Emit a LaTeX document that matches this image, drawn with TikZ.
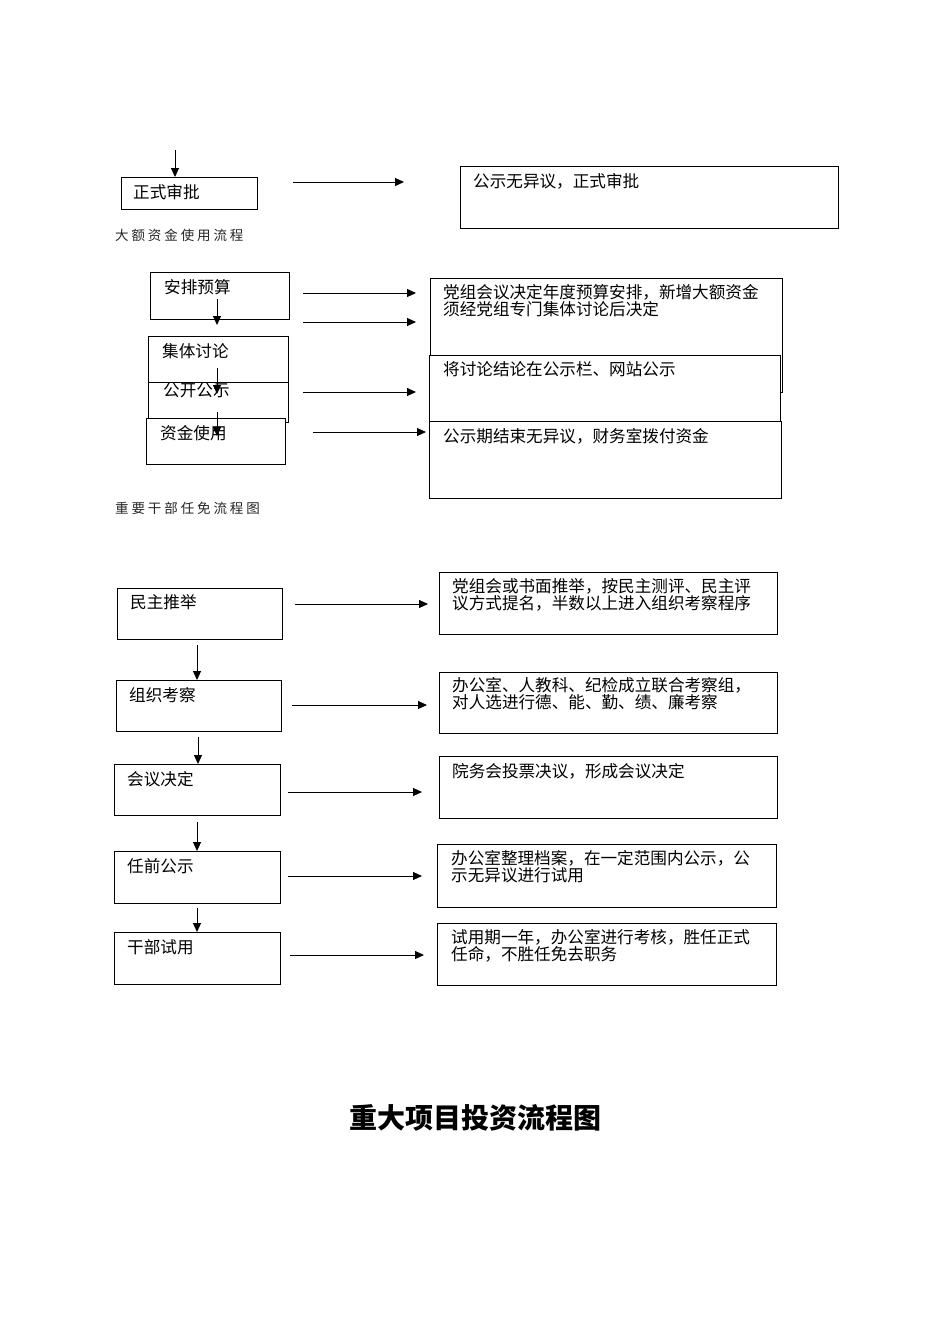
\documentclass[tikz,border=0pt]{standalone}
\usepackage{fontspec}
\usetikzlibrary{arrows.meta}
\newfontfamily\cjk{Noto Sans CJK SC}
\makeatletter
\newcommand\spacedcjk[1]{\@tfor\my@c:=#1\do{\makebox[16.4pt][l]{\my@c}}}
\makeatother
\tikzset{
  box/.style={draw, line width=1.1pt, inner sep=0pt, anchor=north west, fill=white},
  txt/.style={inner sep=0pt, anchor=west, font=\cjk\fontsize{16.6}{17}\selectfont, align=left},
  txt2/.style={inner sep=0pt, anchor=north west, font=\cjk\fontsize{16.6}{17}\selectfont, align=left},
  lbl/.style={inner sep=0pt, anchor=west, text=black!85, font=\cjk\fontsize{13.5}{14}\selectfont},
  arr/.style={line width=1pt, -{Triangle[length=9pt,width=8pt]}}
}
\begin{document}
\begin{tikzpicture}[x=1pt,y=-1pt]
\useasboundingbox (0,0) rectangle (950,1344);
% ---------- section 1 ----------
\node[box, minimum width=136pt, minimum height=32pt] (s1) at (121,177) {};
\node[box, minimum width=378pt, minimum height=62pt] (r1) at (460,166) {};
\node[txt] (s1t) at (133,192) {正式审批};
\node[txt] (r1t) at (473,181) {公示无异议，正式审批};
\coordinate (c0) at (175,150);
\draw[arr] (c0) -- (s1.north -| c0);
\coordinate (h1a) at (293,182);
\coordinate (h1b) at (404,182);
\draw[arr] (h1a) -- (h1b);
\node[lbl] (l1) at (115,235) {\spacedcjk{大额资金使用流程}};
% ---------- section 2 ----------
\node[box, minimum width=139pt, minimum height=47pt] (a1) at (150,272) {};
\node[box, minimum width=140pt, minimum height=46pt] (a2) at (148,336) {};
\node[box, minimum width=140pt, minimum height=40pt] (a3) at (148,382) {};
\node[box, minimum width=139pt, minimum height=46pt] (a4) at (146,418) {};
\node[box, minimum width=352pt, minimum height=114pt] (ra) at (430,278) {};
\node[box, minimum width=351pt, minimum height=66pt] (rb) at (429,355) {};
\node[box, minimum width=352pt, minimum height=77pt] (rc) at (429,421) {};
\node[txt] (a1t) at (164,287) {安排预算};
\node[txt] (a2t) at (162,351) {集体讨论};
\node[txt] (a3t) at (163,390) {公开公示};
\node[txt] (a4t) at (160,433) {资金使用};
\node[txt2] (rat) at (443,284.5) {党组会议决定年度预算安排，新增大额资金\\须经党组专门集体讨论后决定};
\node[txt] (rbt) at (443,369) {将讨论结论在公示栏、网站公示};
\node[txt] (rct) at (443,436) {公示期结束无异议，财务室拨付资金};
\coordinate (v1a) at (217,299);
\coordinate (v1b) at (217,325);
\coordinate (v2a) at (217,368);
\coordinate (v2b) at (217,394);
\coordinate (v3a) at (217,412);
\coordinate (v3b) at (217,436);
\draw[arr] (v1a) -- (v1b);
\draw[arr] (v2a) -- (v2b);
\draw[arr] (v3a) -- (v3b);
\coordinate (h2a) at (303,293); \coordinate (h2b) at (416,293);
\coordinate (h3a) at (303,322); \coordinate (h3b) at (416,322);
\coordinate (h4a) at (303,392); \coordinate (h4b) at (416,392);
\coordinate (h5a) at (313,432); \coordinate (h5b) at (426,432);
\draw[arr] (h2a) -- (h2b);
\draw[arr] (h3a) -- (h3b);
\draw[arr] (h4a) -- (h4b);
\draw[arr] (h5a) -- (h5b);
\node[lbl] (l2) at (115,508) {\spacedcjk{重要干部任免流程图}};
% ---------- section 3 ----------
\node[box, minimum width=165pt, minimum height=51pt] (p1) at (117,588) {};
\node[box, minimum width=165pt, minimum height=51pt] (p2) at (116,680) {};
\node[box, minimum width=166pt, minimum height=51pt] (p3) at (114,764) {};
\node[box, minimum width=166pt, minimum height=52pt] (p4) at (114,851) {};
\node[box, minimum width=166pt, minimum height=52pt] (p5) at (114,932) {};
\node[txt] (p1t) at (130,602) {民主推举};
\node[txt] (p2t) at (129,695) {组织考察};
\node[txt] (p3t) at (127,779) {会议决定};
\node[txt] (p4t) at (127,866) {任前公示};
\node[txt] (p5t) at (127,947) {干部试用};
\node[box, minimum width=338pt, minimum height=62pt] (q1) at (439,572) {};
\node[box, minimum width=338pt, minimum height=61pt] (q2) at (439,672) {};
\node[box, minimum width=338pt, minimum height=62pt] (q3) at (439,756) {};
\node[box, minimum width=339pt, minimum height=63pt] (q4) at (437,844) {};
\node[box, minimum width=339pt, minimum height=62pt] (q5) at (437,923) {};
\node[txt2] (q1t) at (452,578.5) {党组会或书面推举，按民主测评、民主评\\议方式提名，半数以上进入组织考察程序};
\node[txt2] (q2t) at (452,677.5) {办公室、人教科、纪检成立联合考察组，\\对人选进行德、能、勤、绩、廉考察};
\node[txt] (q3t) at (452,771) {院务会投票决议，形成会议决定};
\node[txt2] (q4t) at (451,850.5) {办公室整理档案，在一定范围内公示，公\\示无异议进行试用};
\node[txt2] (q5t) at (451,929.5) {试用期一年，办公室进行考核，胜任正式\\任命，不胜任免去职务};
\coordinate (d1) at (197,645); \coordinate (d2) at (198,737);
\coordinate (d3) at (197,822); \coordinate (d4) at (197,908);
\draw[arr] (d1) -- (d1 |- p2.north);
\draw[arr] (d2) -- (d2 |- p3.north);
\draw[arr] (d3) -- (d3 |- p4.north);
\draw[arr] (d4) -- (d4 |- p5.north);
\coordinate (g1a) at (295,604); \coordinate (g1b) at (428,604);
\coordinate (g2a) at (292,705); \coordinate (g2b) at (427,705);
\coordinate (g3a) at (288,792); \coordinate (g3b) at (422,792);
\coordinate (g4a) at (288,876); \coordinate (g4b) at (422,876);
\coordinate (g5a) at (290,955); \coordinate (g5b) at (424,955);
\draw[arr] (g1a) -- (g1b);
\draw[arr] (g2a) -- (g2b);
\draw[arr] (g3a) -- (g3b);
\draw[arr] (g4a) -- (g4b);
\draw[arr] (g5a) -- (g5b);
% ---------- title ----------
\node[inner sep=0pt, font=\cjk\bfseries\fontsize{28}{30}\selectfont] (title) at (475,1118) {重大项目投资流程图};
\end{tikzpicture}
\end{document}
